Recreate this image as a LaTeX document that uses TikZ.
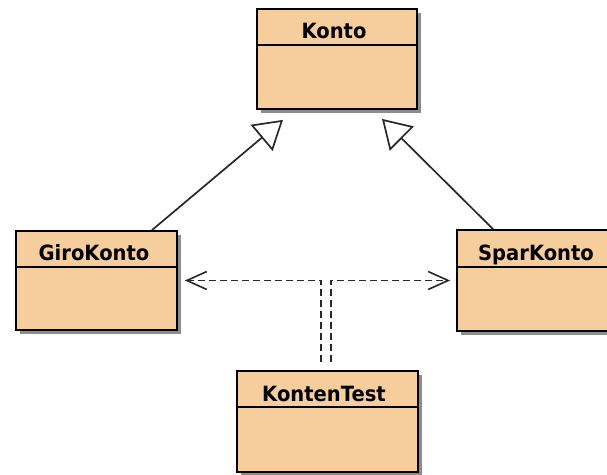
\documentclass[tikz,border=0pt]{standalone}
\usepackage{fontspec}
\setmainfont{DejaVu Sans}
\newfontfamily\umlfont{DejaVu Sans}[FakeStretch=0.93]
\usetikzlibrary{arrows.meta,shadows}
\definecolor{classfill}{RGB}{246,205,156}
\definecolor{linegray}{RGB}{40,40,40}
\begin{document}
\begin{tikzpicture}[x=1pt,y=-1pt,
  classbox/.style={draw=black,line width=1.8pt,fill=classfill,inner sep=0pt,
    drop shadow={shadow xshift=3.5pt,shadow yshift=-3.5pt,opacity=0.45,fill=black}},
  classname/.style={font=\umlfont\fontsize{21}{22}\selectfont\bfseries,anchor=base,inner sep=0pt},
  divider/.style={line width=1.8pt},
  generalization/.style={draw=linegray,line width=1.7pt,
    -{Triangle[open,length=28pt,width=34pt,fill=white]}},
  dependency/.style={draw=linegray,line width=1.6pt,dash pattern=on 7pt off 4pt,
    -{Straight Barb[length=20pt,width=18pt]}}]
\useasboundingbox[fill=white] (0,0) rectangle (607,474);
% Konto
\node[classbox,minimum width=160pt,minimum height=100pt] (konto) at (337,59) {};
\draw[divider] (257,45) -- (417,45);
\node[classname] (kontoname) at (334,38) {Konto};
% GiroKonto
\node[classbox,minimum width=161pt,minimum height=99pt] (giro) at (96.5,280.5) {};
\draw[divider] (16,267) -- (177,267);
\node[classname] (gironame) at (94,260) {GiroKonto};
% SparKonto
\node[classbox,minimum width=161pt,minimum height=101pt] (spar) at (537.5,280.5) {};
\draw[divider] (457,267) -- (618,267);
\node[classname] (sparname) at (536,260) {SparKonto};
% KontenTest
\node[classbox,minimum width=181pt,minimum height=101pt] (kt) at (327.5,421.5) {};
\draw[divider] (237,407) -- (418,407);
\node[classname] (ktname) at (324,401) {KontenTest};
% generalizations
\draw[generalization] ([xshift=55.5pt]giro.north) -- ([xshift=-54pt,yshift=-10pt]konto.south);
\draw[generalization] ([xshift=-44.5pt]spar.north) -- ([xshift=45pt,yshift=-9pt]konto.south);
% dependencies
\draw[dependency] ([xshift=-6.5pt,yshift=8pt]kt.north) |- ([xshift=7pt]giro.east);
\draw[dependency] ([xshift=3.5pt,yshift=8pt]kt.north) |- ([xshift=-6pt]spar.west);
\end{tikzpicture}
\end{document}
